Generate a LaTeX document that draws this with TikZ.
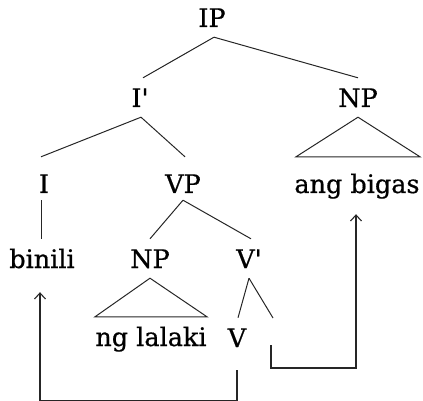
\documentclass[tikz,border=0pt]{standalone}
\usepackage{fontspec}
\setmainfont{DejaVu Serif}
\newfontfamily\lblfont{DejaVu Serif}[FakeBold=0.6]
\usetikzlibrary{arrows.meta}
\begin{document}
\begin{tikzpicture}[x=1pt,y=-1pt,
  lab/.style={anchor=base,inner xsep=0pt,inner ysep=10pt,text height=19pt,text depth=0pt,font=\lblfont\fontsize{25.5}{28}\selectfont},
  br/.style={line width=1pt,draw=black!85},
  mv/.style={line width=1.1pt,draw=black!85,-{Straight Barb[length=6pt,width=11pt]}}]
\useasboundingbox (0,0) rectangle (423,401);
% nodes
\node[lab] (IP) at (212,27) {IP};
\node[lab] (Ib) at (140,107) {I\textquotesingle};
\node[lab] (NPa) at (358,107) {NP};
\node[lab] (I) at (44,193) {I};
\node[lab] (VP) at (183,193) {VP};
\node[lab] (ang) at (357,193) {ang bigas};
\node[lab] (bin) at (42,268) {binili};
\node[lab] (NPb) at (150,268) {NP};
\node[lab] (Vb) at (249,268) {V\textquotesingle};
\node[lab] (ng) at (151,346) {ng lalaki};
\node[lab] (V) at (237,347) {V};
\coordinate (tr) at (273,318);
\coordinate (ts) at (271,345);
% branches
\draw[br] ([xshift=2pt]IP.south) -- ([xshift=3pt]Ib.north);
\draw[br] ([xshift=2pt]IP.south) -- (NPa.north);
\draw[br] ([xshift=1pt]Ib.south) -- ([xshift=-3pt,yshift=7pt]I.north);
\draw[br] ([xshift=1pt]Ib.south) -- ([xshift=2pt,yshift=7pt]VP.north);
\draw[br] (NPa.south) -- ([xshift=-61pt,yshift=7pt]ang.north) -- ([xshift=63pt,yshift=7pt]ang.north) -- cycle;
\draw[br] ([xshift=-3pt,yshift=3pt]I.south) -- ([xshift=-1pt]bin.north);
\draw[br] ([yshift=3pt]VP.south) -- (NPb.north);
\draw[br] ([yshift=3pt]VP.south) -- ([xshift=2pt]Vb.north);
\draw[br] (NPb.south) -- ([xshift=-56pt]ng.north) -- ([xshift=56pt]ng.north) -- cycle;
\draw[br] (Vb.south) -- ([xshift=1pt]V.north);
\draw[br] (Vb.south) -- (tr);
% movement arrows
\draw[mv] ([yshift=-13pt]V.south) -- ++(0,30) -| ([xshift=-2pt,yshift=-14pt]bin.south);
\draw[mv] (ts) -- ++(0,23) -| ([xshift=-1pt,yshift=-11pt]ang.south);
\end{tikzpicture}
\end{document}
